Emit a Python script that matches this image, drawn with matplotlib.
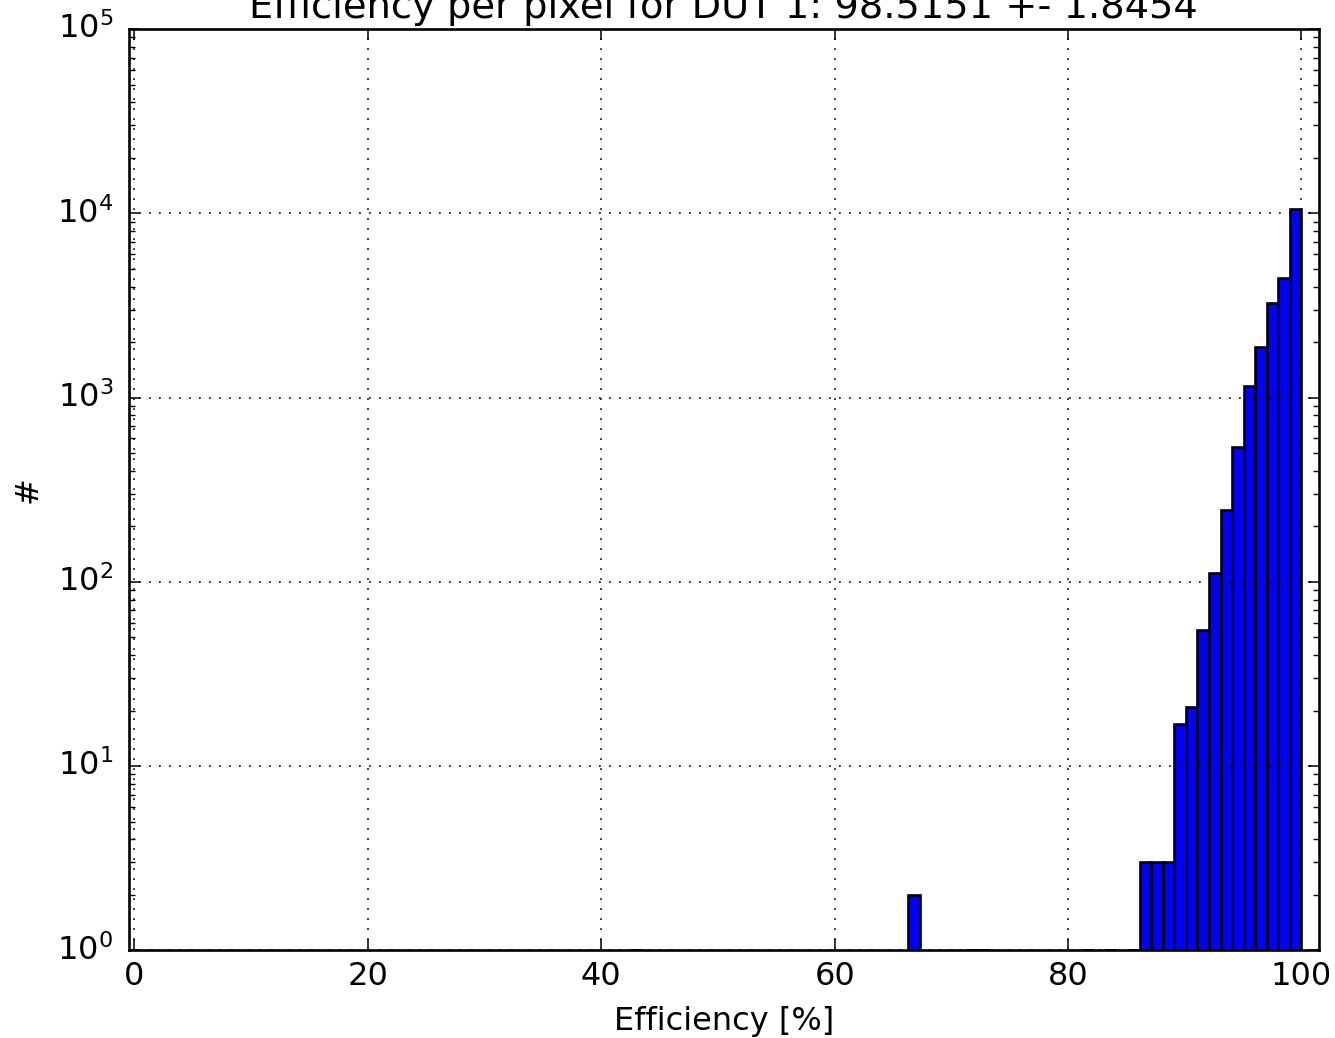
import numpy as np
import matplotlib
matplotlib.use("Agg")
import matplotlib.pyplot as plt

plt.style.use('classic')
plt.rcParams['mathtext.fontset'] = 'dejavusans'
plt.rcParams['font.size'] = 23

# histogram of per-pixel efficiency, 100 bins from the minimum to 100 %
eff_min = 0.93
eff_max = 100.0
n_bins = 100
bin_index = [42, 66, 71, 72, 81, 83, 85, 86, 87, 88, 89, 90, 91, 92, 93,
             94, 95, 96, 97, 98, 99]
bin_count = [1, 2, 1, 1, 1, 1, 1, 3, 3, 3, 17, 21, 55, 112, 245,
             536, 1150, 1885, 3266, 4430, 10580]

title = "Efficiency per pixel for DUT 1: 98.5151 +- 1.8454"

fig = plt.figure(figsize=(13.35, 10.38), dpi=100)
ax = fig.add_axes([0.0963, 0.0845, 0.8917, 0.8875])

edges = np.linspace(eff_min, eff_max, n_bins + 1)
width = edges[1] - edges[0]
lefts = edges[bin_index]
counts = np.array(bin_count, dtype=float)
ax.bar(lefts, counts - 1, bottom=1, width=width, align='edge', color='b',
       edgecolor='k', linewidth=1.9)
ax.set_yscale('log')
ax.set_ylim(1, 1e5)
ax.set_xlim(-0.5, 101.5)

ax.grid(True, which='major', color='k', linestyle=(0, (1.3, 5.9)), linewidth=1.1)
for s in ax.spines.values():
    s.set_linewidth(1.9)
ax.tick_params(which='major', length=8, width=1.1, labelsize=23)
ax.tick_params(axis='x', which='major', pad=8)
ax.tick_params(axis='y', which='major', pad=11)
ax.tick_params(which='minor', length=4, width=1.0)

ax.set_title(title, fontsize=27.6, pad=8)
ax.set_xlabel('Efficiency [%]', fontsize=23, labelpad=10)
ax.set_ylabel('#', fontsize=23, labelpad=10)

fig.savefig('out.png', dpi=100)
